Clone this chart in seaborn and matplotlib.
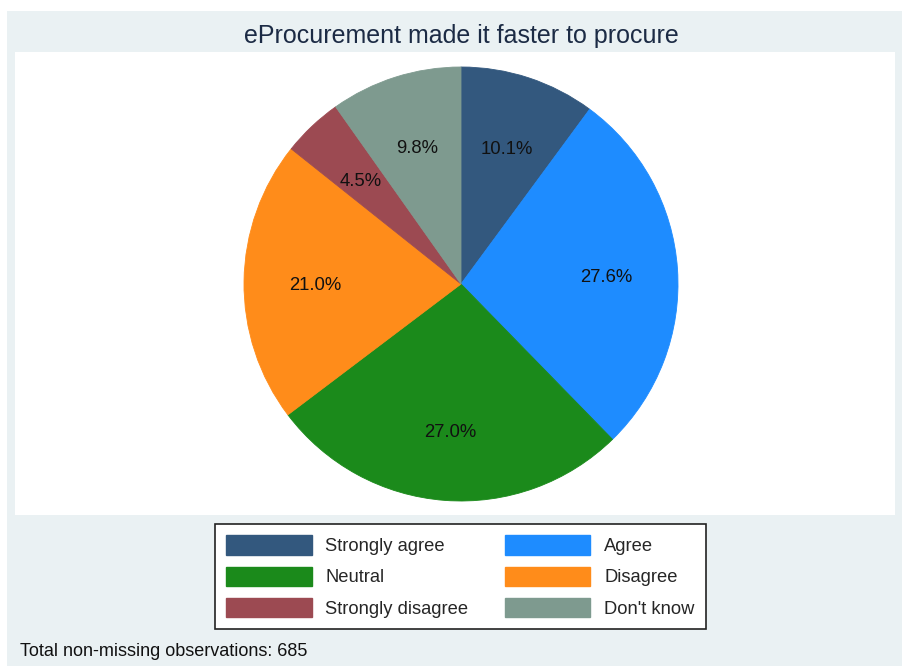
import matplotlib
matplotlib.use("Agg")
import matplotlib.pyplot as plt
import matplotlib.patches as mpatches
import seaborn as sns

# Data
categories = ["Strongly agree", "Agree", "Neutral", "Disagree",
              "Strongly disagree", "Don't know"]
percents = [10.1, 27.6, 27.0, 21.0, 4.5, 9.8]
n_obs = 685
title = "eProcurement made it faster to procure"

# Style settings
PALETTE = ["#33587E", "#1E8CFF", "#1B8A1B", "#FF8C1A", "#9C4A52", "#7E9A8F"]
BG = "#EAF1F3"
W, H = 902, 666

sns.set_theme(style="white")
plt.rcParams["font.family"] = ["Liberation Sans", "DejaVu Sans"]

fig = plt.figure(figsize=(W / 100, H / 100), dpi=100, facecolor="white")

# light outer band (Stata-like graph region)
fig.patches.append(mpatches.Rectangle((7 / W, 0), (W - 7) / W, (H - 11) / H,
                                      transform=fig.transFigure,
                                      facecolor=BG, edgecolor="none", zorder=-1))

# plot region
x0, x1, y0, y1 = 15, 895, 52, 515
ax = fig.add_axes([x0 / W, 1 - y1 / H, (x1 - x0) / W, (y1 - y0) / H])

wedges, texts, autotexts = ax.pie(
    percents, colors=PALETTE, startangle=90, counterclock=False,
    autopct="%.1f%%", pctdistance=0.67,
    wedgeprops={"linewidth": 0.6},
    textprops={"fontsize": 13.3, "color": "#111111"})
for w in wedges:
    w.set_edgecolor(w.get_facecolor())

# place pie: center at (461, 284) px, radius 217 px
cx, cy, r = 461, 284, 217
ax.set_xlim(-(cx - x0) / r, (x1 - cx) / r)
ax.set_ylim(-(y1 - cy) / r, (cy - y0) / r)
ax.set_aspect("auto")
ax.set_frame_on(True)
ax.patch.set_facecolor("white")
ax.patch.set_visible(True)
ax.set_xticks([])
ax.set_yticks([])
for s in ax.spines.values():
    s.set_visible(False)

# nudge the percentage labels down a little (visual centring of digits)
for t in autotexts:
    px, py = t.get_position()
    t.set_position((px, py - 3.5 / r))

fig.text(461 / W, 1 - 36 / H, title, ha="center", va="center",
         fontsize=18, color="#1C2B45")

# legend, filled row-wise like the reference
order = [0, 2, 4, 1, 3, 5]
handles = [mpatches.Patch(facecolor=PALETTE[i], edgecolor=PALETTE[i]) for i in order]
labels = [categories[i] for i in order]
leg = fig.legend(handles, labels, ncol=2, loc="center",
                 bbox_to_anchor=(460.5 / W, 1 - 576.5 / H),
                 fontsize=13.2, handlelength=4.65, handleheight=1.25,
                 handletextpad=0.75, columnspacing=2.0, labelspacing=0.62,
                 borderpad=0.62, fancybox=False, frameon=True)
leg.get_frame().set_edgecolor("#222222")
leg.get_frame().set_linewidth(1.2)
leg.get_frame().set_facecolor("white")
leg.get_frame().set_alpha(1)

fig.text(20 / W, 1 - 651 / H, f"Total non-missing observations: {n_obs}",
         ha="left", va="center", fontsize=13, color="#111111")

fig.savefig("out.png", dpi=100, facecolor=fig.get_facecolor())
